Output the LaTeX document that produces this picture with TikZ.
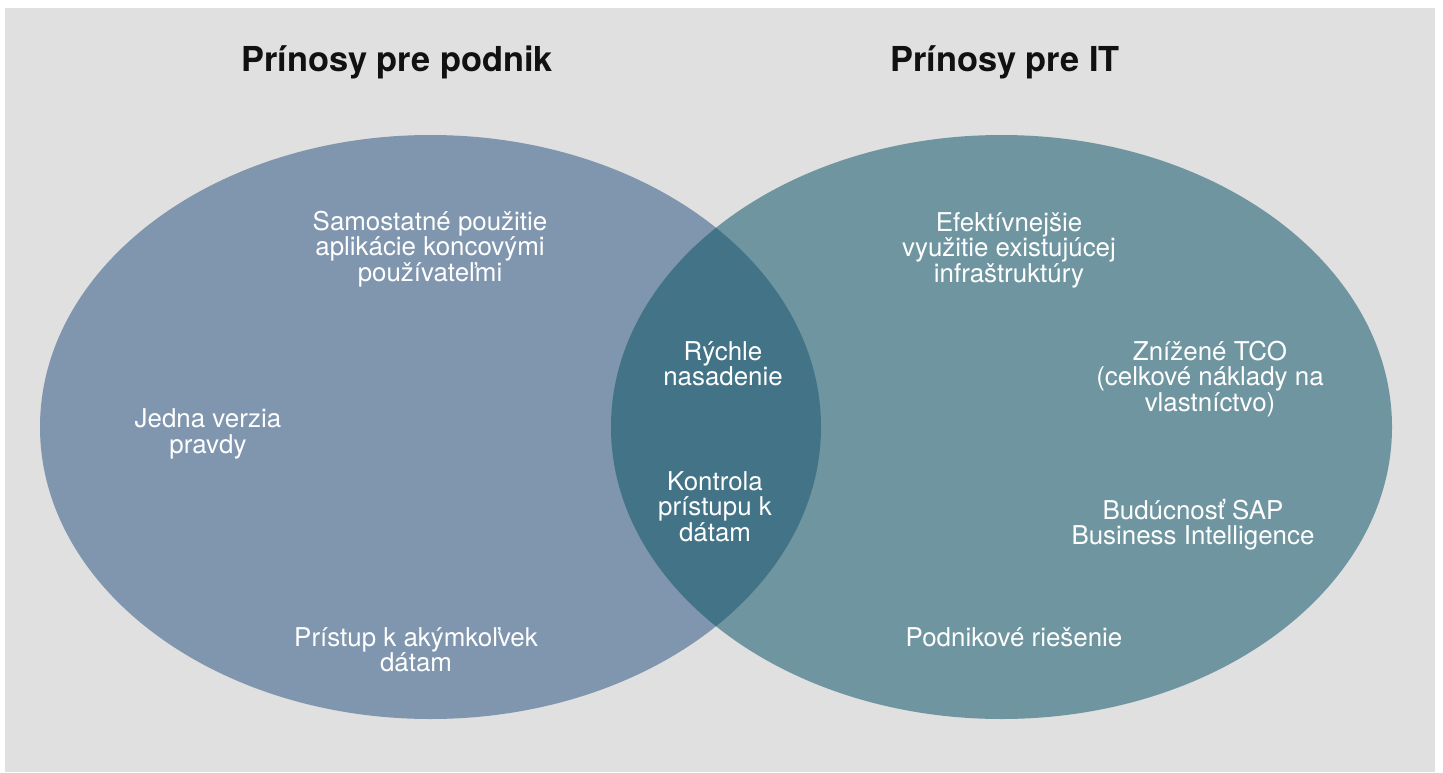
\documentclass[tikz,border=0pt]{standalone}
\usepackage{fontspec}
\setmainfont{TeX Gyre Heros}
\definecolor{bggray}{HTML}{DFE0DF}
\definecolor{leftc}{HTML}{7F96AE}
\definecolor{rightc}{HTML}{6F96A0}
\definecolor{lensc}{HTML}{427386}
\definecolor{titlec}{HTML}{111111}
\begin{document}
\begin{tikzpicture}[x=1bp,y=-1bp,
  title/.style={font=\fontsize{34.5}{40}\selectfont\bfseries, text=titlec, anchor=base, inner sep=0pt},
  body/.style={font=\fontsize{26}{25.5}\selectfont, text=white, align=center, inner sep=0pt}]
\useasboundingbox (0,0) rectangle (1443,772);
\fill[white] (0,0) rectangle (1443,772);
\fill[bggray] (5,8) rectangle (1435,772);
% ellipses
\fill[leftc] (430.5,427) ellipse [x radius=390.5, y radius=292];
\fill[rightc] (1001.5,427) ellipse [x radius=390.5, y radius=292];
\begin{scope}
  \clip (430.5,427) ellipse [x radius=390.5, y radius=292];
  \fill[lensc] (1001.5,427) ellipse [x radius=390.5, y radius=292];
\end{scope}
% titles
\node[title] (t1) at (397,72) {Prínosy pre podnik};
\node[title] (t2) at (1005,72) {Prínosy pre IT};
% left texts
\node[body] (l1) at (430,249) {Samostatné použitie\\aplikácie koncovými\\používateľmi};
\node[body] (l2) at (208,434) {Jedna verzia\\pravdy};
\node[body] (l3) at (416,650) {Prístup k akýmkoľvek\\dátam};
% center texts
\node[body] (c1) at (723,364) {Rýchle\\nasadenie};
\node[body] (c2) at (715,506.5) {Kontrola\\prístupu k\\dátam};
% right texts
\node[body] (r1) at (1009,250) {Efektívnejšie\\využitie existujúcej\\infraštruktúry};
\node[body] (r2) at (1210,379) {Znížené TCO\\(celkové náklady na\\vlastníctvo)};
\node[body] (r3) at (1193,524.5) {Budúcnosť SAP\\Business Intelligence};
\node[body] (r4) at (1014,637.5) {Podnikové riešenie};
\end{tikzpicture}
\end{document}
